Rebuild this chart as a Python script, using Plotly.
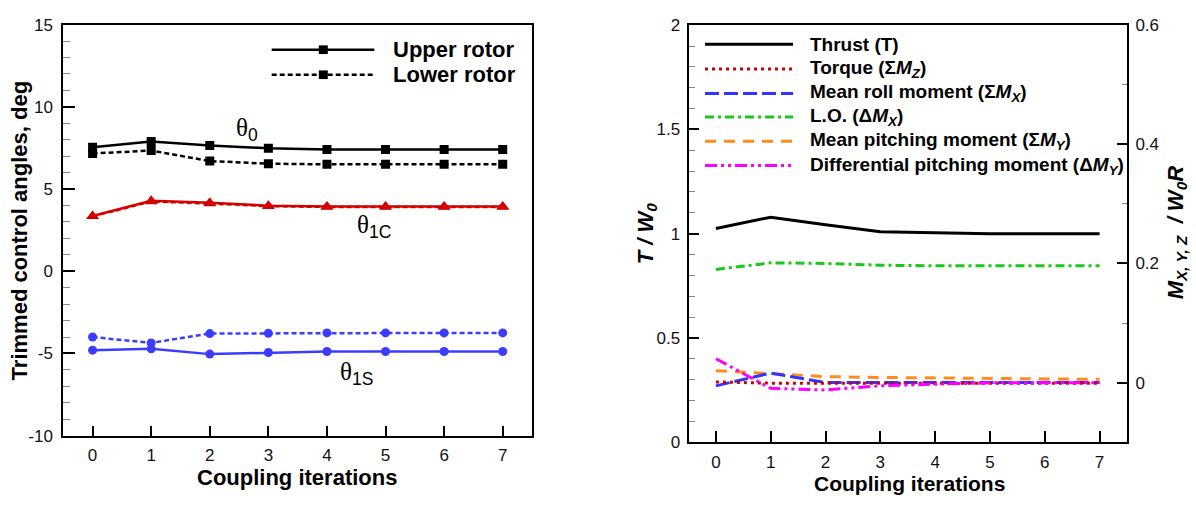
import plotly.graph_objects as go

# ---- data -------------------------------------------------------------
iterations = [0, 1, 2, 3, 4, 5, 6, 7]
iteration_labels = [str(i) for i in iterations]
angle_ticks = [-10, -5, 0, 5, 10, 15]
thrust_ticks = [0, 0.5, 1, 1.5, 2]
moment_ticks = [0, 0.2, 0.4, 0.6]

# Trimmed control angles (deg)
theta0_upper = [7.54, 7.89, 7.65, 7.48, 7.40, 7.40, 7.40, 7.40]
theta0_lower = [7.16, 7.34, 6.70, 6.54, 6.50, 6.50, 6.50, 6.50]
theta1c_upper = [3.36, 4.28, 4.16, 3.99, 3.94, 3.94, 3.94, 3.94]
theta1c_lower = [3.34, 4.24, 4.12, 3.96, 3.91, 3.91, 3.91, 3.91]
theta1s_upper = [-4.80, -4.72, -5.04, -4.94, -4.88, -4.88, -4.88, -4.88]
theta1s_lower = [-4.00, -4.36, -3.79, -3.77, -3.75, -3.75, -3.75, -3.75]

# Normalised loads
thrust = [1.025, 1.079, 1.043, 1.009, 1.004, 1.0, 1.0, 1.0]
torque = [0.001, -0.001, -0.001, -0.001, -0.001, -0.001, -0.001, -0.001]
roll_mean = [-0.0055, 0.016, 0.0, 0.0, 0.0, 0.0, 0.0, 0.0]
lift_offset = [0.190, 0.201, 0.200, 0.197, 0.196, 0.196, 0.196, 0.196]
pitch_mean = [0.020, 0.0145, 0.010, 0.0086, 0.0075, 0.007, 0.006, 0.0054]
pitch_diff = [0.040, -0.0097, -0.0124, -0.0054, -0.0027, -0.0005, -0.0005, -0.0005]

W, H = 1196, 507


def px(x):
    return x / W


def py(y):
    return 1 - y / H


def fmt(v):
    return f"{v:g}"


SANS = "Liberation Sans, Arial, sans-serif"
SERIF = "Liberation Serif, Times New Roman, serif"
RED = "#d40000"
BLUE = "#3c3cff"

fig = go.Figure()

# ---- left panel: control angles ---------------------------------------
def angle_trace(y, color, symbol, size, dash):
    fig.add_trace(go.Scatter(
        x=iterations, y=y, mode="lines+markers", xaxis="x", yaxis="y",
        line=dict(color=color, width=2.5, dash=dash),
        marker=dict(symbol=symbol, size=size, color=color),
        showlegend=False, hoverinfo="skip"))


angle_trace(theta0_lower, "black", "square", 9, "5px,3px")
angle_trace(theta0_upper, "black", "square", 9, "solid")
angle_trace(theta1c_upper, RED, "triangle-up", 11, "solid")
angle_trace(theta1c_lower, RED, "triangle-up", 11, "5px,3px")
angle_trace(theta1s_lower, BLUE, "circle", 9, "5px,3px")
angle_trace(theta1s_upper, BLUE, "circle", 9, "solid")

# ---- right panel: loads ----------------------------------------------
def load_trace(y, color, dash, axis, width=3):
    fig.add_trace(go.Scatter(
        x=iterations, y=y, mode="lines", xaxis="x2", yaxis=axis,
        line=dict(color=color, width=width, dash=dash),
        showlegend=False, hoverinfo="skip"))


load_styles = [
    (thrust, "black", "solid", "y2"),
    (lift_offset, "#19c919", "9px,4px,3px,4px", "y3"),
    (pitch_mean, "#ff8c1a", "11px,8px", "y3"),
    (roll_mean, "#3333ff", "14px,5px", "y3"),
    (torque, "#cc0000", "3px,4px", "y3"),
    (pitch_diff, "#ff00ff", "12px,4px,3px,4px,3px,4px", "y3"),
]
for vals, col, dash, ax in load_styles:
    load_trace(vals, col, dash, ax)

# ---- axes --------------------------------------------------------------
tick_font = dict(family=SANS, size=17, color="#111")
common = dict(showline=True, linewidth=2, linecolor="black", showgrid=False,
              zeroline=False, ticks="inside", tickwidth=2, tickcolor="black",
              tickfont=tick_font, tickmode="array")

left_x = [px(63.3), px(532)]
left_y = [py(443.3), py(16.2)]
right_x = [px(688.5), px(1127)]
right_y = [py(450), py(16.8)]

fig.update_layout(
    width=W, height=H, margin=dict(l=0, r=0, t=0, b=0),
    paper_bgcolor="white", plot_bgcolor="white",
    xaxis=dict(domain=left_x, range=[-0.5, 7.5], tickvals=iterations,
               ticktext=iteration_labels,
               ticklen=10, mirror=True, anchor="y", ticklabelstandoff=3,
               **common),
    yaxis=dict(domain=left_y, range=[-10, 15], tickvals=angle_ticks,
               ticktext=[fmt(v) for v in angle_ticks], ticklen=12,
               mirror=True, anchor="x", ticklabelstandoff=5,
               minor=dict(dtick=1, ticks="inside", ticklen=7, tickwidth=1,
                          tickcolor="#888"),
               **common),
    xaxis2=dict(domain=right_x, range=[-0.5, 7.5], tickvals=iterations,
                ticktext=iteration_labels,
                ticklen=11, mirror=True, anchor="y2", ticklabelstandoff=3,
                **common),
    yaxis2=dict(domain=right_y, range=[0, 2], ticklen=10,
                anchor="x2", ticklabelstandoff=3,
                tickvals=thrust_ticks, ticktext=[fmt(v) for v in thrust_ticks],
                minor=dict(dtick=0.1, ticks="inside", ticklen=6, tickwidth=1,
                           tickcolor="#888"),
                **common),
    yaxis3=dict(domain=right_y, range=[-0.1, 0.6], overlaying="y2",
                side="right", anchor="x2", ticklen=10, ticklabelstandoff=3,
                tickvals=moment_ticks, ticktext=[fmt(v) for v in moment_ticks],
                minor=dict(tickvals=[0.1, 0.3, 0.5], ticks="inside", ticklen=5,
                           tickwidth=1, tickcolor="#888"),
                **common),
)


def bold(size, family=SANS):
    return dict(family=family, size=size, color="black", weight="bold")


# ---- axis titles -------------------------------------------------------
annotations = [
    dict(text="Coupling iterations", x=px(297), y=py(487), font=bold(22)),
    dict(text="Trimmed control angles, deg", x=px(19), y=py(230),
         textangle=-90, font=bold(22)),
    dict(text="Coupling iterations", x=px(909), y=py(493), font=bold(21)),
    dict(text="<i>T / W<sub>0</sub></i>", x=px(647), y=py(233),
         textangle=-90, font=bold(22)),
    dict(text="<i>M<sub>X, Y, Z</sub>  / W<sub>0</sub>R</i>",
         x=px(1177), y=py(233), textangle=-90, font=bold(22)),
]

# curve labels: serif theta with sans-serif subscripts
theta_font = dict(family=SERIF, size=25, color="black")


def theta_label(sub):
    return ("θ<sub><span style='font-family:Liberation Sans, Arial'>"
            f"{sub}</span></sub>")


annotations += [
    dict(text=theta_label("0"), x=2.63, y=8.6, xref="x", yref="y",
         font=theta_font),
    dict(text=theta_label("1C"), x=4.8, y=2.75, xref="x", yref="y",
         font=theta_font),
    dict(text=theta_label("1S"), x=4.5, y=-6.2, xref="x", yref="y",
         font=theta_font),
]

shapes = []

# ---- left legend -------------------------------------------------------
left_legend = [("Upper rotor", "solid", 42.3), ("Lower rotor", "5px,3px", 68.3)]
for label, dash, yy in left_legend:
    shapes.append(dict(type="line", xref="paper", yref="paper",
                       x0=px(271.7), x1=px(374.3), y0=py(yy), y1=py(yy),
                       line=dict(color="black", width=2.5, dash=dash)))
    shapes.append(dict(type="rect", xref="paper", yref="paper",
                       x0=px(323.3 - 4.5), x1=px(323.3 + 4.5),
                       y0=py(yy + 4.5), y1=py(yy - 4.5),
                       fillcolor="black", line=dict(width=0)))
    annotations.append(dict(text=label, x=px(391), y=py(yy),
                            xanchor="left", font=bold(22)))

# ---- right legend ------------------------------------------------------
right_legend = [
    ("Thrust (T)", "black", "solid", 36.7),
    ("Torque (Σ<i>M<sub>Z</sub></i>)", "#cc0000", "3px,4px", 62.3),
    ("Mean roll moment (Σ<i>M<sub>X</sub></i>)", "#3333ff", "14px,5px", 87.7),
    ("L.O. (Δ<i>M<sub>X</sub></i>)", "#19c919", "9px,4px,3px,4px", 112.3),
    ("Mean pitching moment (Σ<i>M<sub>Y</sub></i>)", "#ff8c1a", "11px,8px", 137.3),
    ("Differential pitching moment (Δ<i>M<sub>Y</sub></i>)", "#ff00ff",
     "12px,4px,3px,4px,3px,4px", 162.7),
]
for label, col, dash, yy in right_legend:
    shapes.append(dict(type="line", xref="paper", yref="paper",
                       x0=px(705), x1=px(793), y0=py(yy), y1=py(yy),
                       line=dict(color=col, width=3, dash=dash)))
    annotations.append(dict(text=label, x=px(808), y=py(yy),
                            xanchor="left", font=bold(19)))

for a in annotations:
    a.setdefault("xref", "paper")
    a.setdefault("yref", "paper")
    a.setdefault("xanchor", "center")
    a.setdefault("yanchor", "middle")
    a["showarrow"] = False

fig.update_layout(annotations=annotations, shapes=shapes)

fig.write_html("out.html")
